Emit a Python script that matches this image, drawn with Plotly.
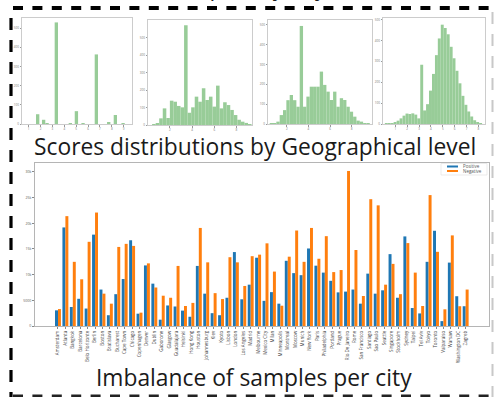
import plotly.graph_objects as go

W, H = 494, 397


def fx(p):
    return p / W


def fy(p):
    return 1 - p / H


# ---------------- data: bar chart ----------------
cities = ["Amsterdam", "Atlanta", "Bangkok", "Barcelona", "Belo Horizonte", "Berlin", "Boston",
          "Bratislava", "Bucharest", "Cape Town", "Chicago", "Copenhagen", "Denver", "Dublin",
          "Gaborone", "Glasgow", "Guadalajara", "Helsinki", "Hong Kong", "Houston", "Johannesburg",
          "Kiev", "Kyoto", "Lisbon", "London", "Los Angeles", "Madrid", "Melbourne", "Mexico City",
          "Milan", "Minneapolis", "Montreal", "Moscow", "Munich", "New York", "Paris",
          "Philadelphia", "Portland", "Prague", "Rio De Janeiro", "Rome", "San Francisco",
          "Santiago", "Sao Paulo", "Seattle", "Singapore", "Stockholm", "Sydney", "Taipei",
          "Tel Aviv", "Tokyo", "Toronto", "Valparaiso", "Warsaw", "Washington DC", "Zagreb"]
positive = [3050, 19200, 3700, 5300, 3400, 17800, 7100, 2100, 6200, 9150, 16700, 2400, 11800, 8250,
            1230, 4000, 3800, 3000, 1800, 11700, 6300, 2500, 2100, 5500, 14400, 5200, 8050, 13300,
            4900, 6600, 4350, 12700, 10300, 9900, 15100, 11750, 10400, 8800, 6550, 6700, 7100, 4350,
            10200, 6300, 6950, 14000, 5500, 17450, 3500, 2450, 12500, 18550, 950, 12350, 5800, 3850]
negative = [3300, 21400, 12500, 9100, 16400, 22100, 6300, 4350, 15400, 16000, 15600, 2600, 12200, 7500,
            5900, 5500, 11700, 3900, 4500, 19100, 12400, 6400, 5250, 13400, 12400, 7800, 13600, 13900,
            16100, 10600, 3950, 13500, 18600, 12500, 19100, 13100, 17500, 10500, 10900, 30200, 14800, 5850,
            24700, 23500, 8050, 12100, 6200, 16150, 10400, 3900, 25500, 14450, 3250, 17650, 3850, 7100]
bar_yticks = [0, 5000, 10000, 15000, 20000, 25000, 30000]

# ---------------- data: score histograms (bin centres, counts) ----------------
h1_x = [1.76, 2.26, 2.55, 3.33, 4.51, 5.02, 5.58, 6.70, 7.74, 8.30, 8.95]
h1_y = [51, 22, 5, 530, 5, 67, 5, 363, 6, 47, 4]
h1_w = 0.28

h2_x = [0.56, 0.88, 1.20, 1.52, 1.84, 2.16, 2.48, 2.80, 3.12, 3.44, 3.76, 4.08, 4.40, 4.72,
        5.04, 5.36, 5.68, 6.00, 6.32, 6.64, 6.96, 7.28, 7.60, 7.92, 8.24, 8.56, 8.88, 9.20]
h2_y = [4, 10, 38, 95, 40, 139, 133, 109, 101, 570, 70, 101, 162, 133,
        210, 143, 162, 105, 225, 95, 130, 114, 86, 57, 30, 19, 12, 4]
h2_w = 0.32

h3_x = [0.55, 0.86, 1.17, 1.48, 1.79, 2.10, 2.41, 2.72, 3.03, 3.34, 3.65, 3.96, 4.27, 4.58, 4.89,
        5.20, 5.51, 5.82, 6.13, 6.44, 6.75, 7.06, 7.37, 7.68, 7.99, 8.30, 8.61, 8.92, 9.23, 9.54]
h3_y = [2, 3, 12, 45, 70, 120, 146, 120, 87, 494, 87, 138, 188, 188, 188,
        264, 197, 163, 121, 163, 87, 130, 121, 87, 62, 37, 17, 12, 3, 2]
h3_w = 0.31

h4_x = [0.24, 0.49, 0.74, 0.98, 1.23, 1.48, 1.73, 1.98, 2.22, 2.47, 2.72, 2.97, 3.22, 3.46, 3.71,
        3.96, 4.21, 4.46, 4.70, 4.95, 5.20, 5.45, 5.70, 5.94, 6.19, 6.44, 6.69, 6.94, 7.18, 7.43,
        7.68, 7.93, 8.18]
h4_y = [1, 2, 4, 8, 16, 27, 40, 50, 48, 51, 45, 27, 284, 65, 95, 160, 240, 330, 410, 476,
        460, 430, 370, 315, 255, 195, 135, 92, 60, 36, 18, 8, 2]
h4_w = 0.248

hists = [
    dict(x=h1_x, y=h1_y, w=h1_w, xr=[0.44, 9.7], yr=[0, 553], xt=[1, 2, 3, 4, 5, 6, 7, 8, 9],
         box=(22, 132, 18, 124)),
    dict(x=h2_x, y=h2_y, w=h2_w, xr=[0.03, 9.4], yr=[0, 600], xt=[2, 4, 6, 8],
         box=(148, 252, 20, 125)),
    dict(x=h3_x, y=h3_y, w=h3_w, xr=[0.24, 9.9], yr=[0, 524], xt=[2, 4, 6, 8],
         box=(268, 372, 20, 124)),
    dict(x=h4_x, y=h4_y, w=h4_w, xr=[-0.04, 8.55], yr=[0, 508], xt=[1, 2, 3, 4, 5, 6, 7, 8],
         box=(383, 485, 18, 124)),
]
hist_yticks = [0, 100, 200, 300, 400, 500]

BLUE = "#1f77b4"
ORANGE = "#ff7f0e"
GREEN = "#98cc98"

fig = go.Figure()

# bar chart
fig.add_trace(go.Bar(x=cities, y=positive, name="Positive", marker_color=BLUE,
                     marker_line_width=0, width=0.4, offset=-0.4, showlegend=False))
fig.add_trace(go.Bar(x=cities, y=negative, name="Negative", marker_color=ORANGE,
                     marker_line_width=0, width=0.4, offset=0.0, showlegend=False))

layout = dict(
    width=W, height=H, template="none", barmode="overlay",
    margin=dict(l=0, r=0, t=0, b=0), paper_bgcolor="white", plot_bgcolor="white",
    font=dict(family="Open Sans", color="#222"),
    xaxis=dict(domain=[fx(35), fx(489)], range=[-3.1, 58.15], type="category",
               tickangle=-90, tickfont=dict(size=4.5, color="#444"), ticks="outside",
               ticklen=2, tickwidth=0.5, tickcolor="#888", showgrid=False, zeroline=False,
               showline=True, mirror=True, linecolor="#b5b5b5", linewidth=1, automargin=False,
               anchor="y"),
    yaxis=dict(domain=[fy(326), fy(163)], range=[0, 31750], tickvals=bar_yticks,
               tickfont=dict(size=3.5, color="#555"), ticks="outside", ticklen=2, tickwidth=0.5,
               tickcolor="#888", showgrid=False, zeroline=False, showline=True, mirror=True,
               linecolor="#b5b5b5", linewidth=1, automargin=False, anchor="x"),
)

for i, hd in enumerate(hists, start=2):
    x0, x1, y0, y1 = hd["box"]
    fig.add_trace(go.Bar(x=hd["x"], y=hd["y"], width=hd["w"], marker_color=GREEN,
                         marker_line_width=0, showlegend=False,
                         xaxis=f"x{i}", yaxis=f"y{i}"))
    layout[f"xaxis{i}"] = dict(domain=[fx(x0), fx(x1)], range=hd["xr"], tickvals=hd["xt"],
                               tickfont=dict(size=3, color="#777"), ticks="outside", ticklen=1.5,
                               tickwidth=0.5, tickcolor="#999", showgrid=False, zeroline=False,
                               showline=True, mirror=True, linecolor="#cccccc", linewidth=1,
                               automargin=False, anchor=f"y{i}")
    layout[f"yaxis{i}"] = dict(domain=[fy(y1), fy(y0)], range=hd["yr"], tickvals=hist_yticks,
                               tickfont=dict(size=3, color="#777"), ticks="outside", ticklen=1.5,
                               tickwidth=0.5, tickcolor="#999", showgrid=False, zeroline=False,
                               showline=True, mirror=True, linecolor="#cccccc", linewidth=1,
                               automargin=False, anchor=f"x{i}")

# legend (drawn manually, matplotlib style)
shapes = [
    dict(type="rect", xref="paper", yref="paper", x0=fx(441), x1=fx(487), y0=fy(175), y1=fy(163.5),
         line=dict(color="#e2e2e2", width=0.7), fillcolor="rgba(255,255,255,0.8)"),
    dict(type="line", xref="paper", yref="paper", x0=fx(447), x1=fx(458), y0=fy(166.5), y1=fy(166.5),
         line=dict(color=BLUE, width=2)),
    dict(type="line", xref="paper", yref="paper", x0=fx(447), x1=fx(458), y0=fy(171), y1=fy(171),
         line=dict(color=ORANGE, width=2)),
    # dashed border
    dict(type="line", xref="paper", yref="paper", x0=fx(13), x1=fx(494), y0=fy(8), y1=fy(8),
         line=dict(color="black", width=4, dash="10px,9.4px")),
    dict(type="line", xref="paper", yref="paper", x0=fx(11), x1=fx(11), y0=fy(18), y1=fy(397),
         line=dict(color="black", width=3.2, dash="12px,10px")),
    dict(type="line", xref="paper", yref="paper", x0=fx(13), x1=fx(494), y0=fy(396), y1=fy(396),
         line=dict(color="#222", width=3, dash="10px,9.4px")),
    dict(type="line", xref="paper", yref="paper", x0=fx(492.5), x1=fx(492.5), y0=fy(12), y1=fy(397),
         line=dict(color="#c8c8c8", width=2, dash="12px,10px")),
]

annotations = [
    dict(text="Positive", x=fx(461), y=fy(166.5), xref="paper", yref="paper", xanchor="left",
         yanchor="middle", showarrow=False, font=dict(size=4.5, color="#555")),
    dict(text="Negative", x=fx(461), y=fy(171), xref="paper", yref="paper", xanchor="left",
         yanchor="middle", showarrow=False, font=dict(size=4.5, color="#555")),
    dict(text="Scores distributions by Geographical level", x=fx(254.5), y=fy(163.5),
         xref="paper", yref="paper", xanchor="center", yanchor="bottom", showarrow=False,
         font=dict(size=22.8, color="#1a1a1a", family="Open Sans")),
    dict(text="Imbalance of samples per city", x=fx(253.5), y=fy(394.5),
         xref="paper", yref="paper", xanchor="center", yanchor="bottom", showarrow=False,
         font=dict(size=22.8, color="#1a1a1a", family="Open Sans")),
    dict(text="(b) Samples by city level", x=fx(255), y=fy(3.5),
         xref="paper", yref="paper", xanchor="center", yanchor="bottom", showarrow=False,
         font=dict(size=22.8, color="#1a1a1a", family="Open Sans")),
]

layout["shapes"] = shapes
layout["annotations"] = annotations
fig.update_layout(**layout)

fig.write_html("out.html", config={"displayModeBar": False},
               post_script="document.body.style.margin='0';document.body.style.padding='0';")
